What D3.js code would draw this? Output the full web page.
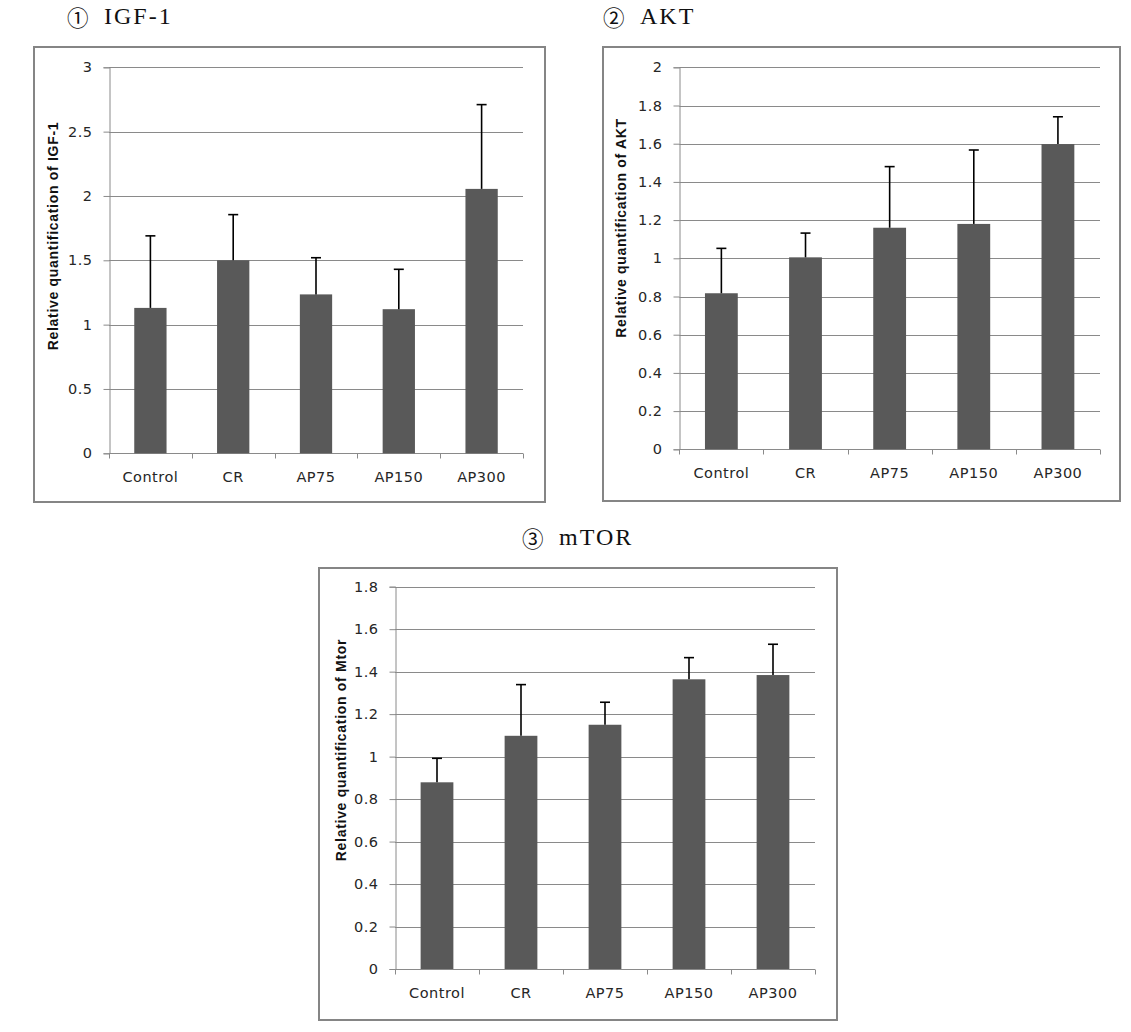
<!DOCTYPE html>
<html>
<head>
<meta charset="utf-8">
<script src="https://cdn.jsdelivr.net/npm/d3@7"></script>
<style>
  html, body { margin: 0; padding: 0; background: #ffffff; }
  svg { display: block; }
</style>
</head>
<body>
<svg id="chart" width="1131" height="1032"></svg>
<script>
// ---- Data ----
const categories = ["Control", "CR", "AP75", "AP150", "AP300"];

const igfMeans = [1.13, 1.50, 1.235, 1.12, 2.055];
const igfErrors = [0.56, 0.355, 0.285, 0.31, 0.655];
const igfTicks = [0, 0.5, 1, 1.5, 2, 2.5, 3];

const aktMeans = [0.817, 1.005, 1.16, 1.18, 1.598];
const aktErrors = [0.235, 0.127, 0.32, 0.387, 0.143];
const aktTicks = [0, 0.2, 0.4, 0.6, 0.8, 1, 1.2, 1.4, 1.6, 1.8, 2];

const mtorMeans = [0.879, 1.098, 1.15, 1.364, 1.384];
const mtorErrors = [0.113, 0.241, 0.106, 0.102, 0.145];
const mtorTicks = [0, 0.2, 0.4, 0.6, 0.8, 1, 1.2, 1.4, 1.6, 1.8];

const panelTitles = ["IGF-1", "AKT", "mTOR"];
const panelMarks = ["\u2460", "\u2461", "\u2462"];
const yLabels = ["Relative quantification of IGF-1", "Relative quantification of AKT", "Relative quantification of Mtor"];

// ---- Layout ----
const panels = [
  { means: igfMeans, errors: igfErrors, ticks: igfTicks, yMax: 3,
    frame: [34, 47, 545, 502], plot: [109, 523, 67.3, 453.3],
    title: [67, 24], label: [53, 236] },
  { means: aktMeans, errors: aktErrors, ticks: aktTicks, yMax: 2,
    frame: [603, 47, 1120, 501], plot: [679.3, 1100, 67.3, 449.3],
    title: [603, 24], label: [621, 228] },
  { means: mtorMeans, errors: mtorErrors, ticks: mtorTicks, yMax: 1.8,
    frame: [319, 568, 837, 1020], plot: [395, 815, 586.7, 969],
    title: [522, 545], label: [341, 750] }
];

const svg = d3.select("#chart");
const gridColor = "#8a8a8a";
const barColor = "#595959";
const textColor = "#262626";
const tickFont = "'DejaVu Sans', Verdana, sans-serif";

panels.forEach((p, i) => {
  const g = svg.append("g");
  const [fx0, fy0, fx1, fy1] = p.frame;
  const [px0, px1, pyTop, pyBot] = p.plot;

  // Title
  g.append("text")
    .attr("x", p.title[0]).attr("y", p.title[1] + 1.5)
    .attr("font-family", "'Noto Sans CJK KR', 'DejaVu Sans', sans-serif")
    .attr("font-size", 21.5).attr("fill", "#111")
    .text(panelMarks[i]);
  g.append("text")
    .attr("x", p.title[0] + 37).attr("y", p.title[1])
    .attr("font-family", "'Liberation Serif', 'DejaVu Serif', serif")
    .attr("font-size", 24).attr("letter-spacing", "2px").attr("fill", "#111")
    .text(panelTitles[i]);

  // Frame
  g.append("rect")
    .attr("x", fx0).attr("y", fy0)
    .attr("width", fx1 - fx0).attr("height", fy1 - fy0)
    .attr("fill", "#fff").attr("stroke", "#858585").attr("stroke-width", 2);

  const x = d3.scaleBand().domain(categories).range([px0, px1]).padding(0);
  const y = d3.scaleLinear().domain([0, p.yMax]).range([pyBot, pyTop]);

  // Gridlines
  g.append("g").selectAll("line")
    .data(p.ticks.filter(t => t > 0))
    .join("line")
    .attr("x1", px0).attr("x2", px1)
    .attr("y1", d => Math.round(y(d)) + 0.5).attr("y2", d => Math.round(y(d)) + 0.5)
    .attr("stroke", gridColor).attr("stroke-width", 1);

  // Y axis
  const yAxis = g.append("g")
    .attr("transform", `translate(${Math.round(px0) + 0.5},0)`)
    .call(d3.axisLeft(y).tickValues(p.ticks).tickSize(6).tickPadding(11)
      .tickFormat(d => String(+d.toFixed(1))));
  yAxis.select(".domain").attr("stroke", gridColor);
  yAxis.selectAll(".tick line").attr("stroke", gridColor);
  yAxis.selectAll(".tick text")
    .attr("font-family", tickFont).attr("font-size", 14.5)
    .attr("letter-spacing", "0.5px").attr("fill", textColor);

  // X axis
  const xAxisG = g.append("g")
    .attr("transform", `translate(0,${Math.round(pyBot) + 0.5})`);
  xAxisG.append("line")
    .attr("x1", px0).attr("x2", px1).attr("y1", 0).attr("y2", 0)
    .attr("stroke", gridColor);
  const bounds = categories.map(c => x(c)).concat([px1]);
  xAxisG.selectAll("line.xt").data(bounds).join("line")
    .attr("class", "xt")
    .attr("x1", d => Math.round(d) + 0.5).attr("x2", d => Math.round(d) + 0.5)
    .attr("y1", 0).attr("y2", 5)
    .attr("stroke", gridColor);
  xAxisG.selectAll("text").data(categories).join("text")
    .attr("x", d => x(d) + x.bandwidth() / 2)
    .attr("y", 28)
    .attr("text-anchor", "middle")
    .attr("font-family", tickFont).attr("font-size", 14.5)
    .attr("letter-spacing", "0.5px").attr("fill", textColor)
    .text(d => d);

  // Bars
  const barW = x.bandwidth() * 0.39;
  g.append("g").selectAll("rect")
    .data(categories)
    .join("rect")
    .attr("x", (d) => x(d) + (x.bandwidth() - barW) / 2)
    .attr("y", (d, j) => y(p.means[j]))
    .attr("width", barW)
    .attr("height", (d, j) => y(0) - y(p.means[j]))
    .attr("fill", barColor);

  // Error bars (upper only)
  const eg = g.append("g");
  categories.forEach((c, j) => {
    const cx = x(c) + x.bandwidth() / 2;
    const top = y(p.means[j] + p.errors[j]);
    eg.append("line")
      .attr("x1", cx).attr("x2", cx)
      .attr("y1", y(p.means[j])).attr("y2", top)
      .attr("stroke", "#000").attr("stroke-width", 1.6);
    eg.append("line")
      .attr("x1", cx - 5).attr("x2", cx + 5)
      .attr("y1", top).attr("y2", top)
      .attr("stroke", "#000").attr("stroke-width", 1.6);
  });

  // Y label
  g.append("text")
    .attr("transform", `translate(${p.label[0] + 5},${p.label[1]}) rotate(-90)`)
    .attr("text-anchor", "middle")
    .attr("font-family", "'Liberation Sans', Arial, sans-serif")
    .attr("font-weight", "bold").attr("font-size", 14)
    .attr("letter-spacing", "0.7px").attr("fill", "#111")
    .text(yLabels[i]);
});
</script>
</body>
</html>
